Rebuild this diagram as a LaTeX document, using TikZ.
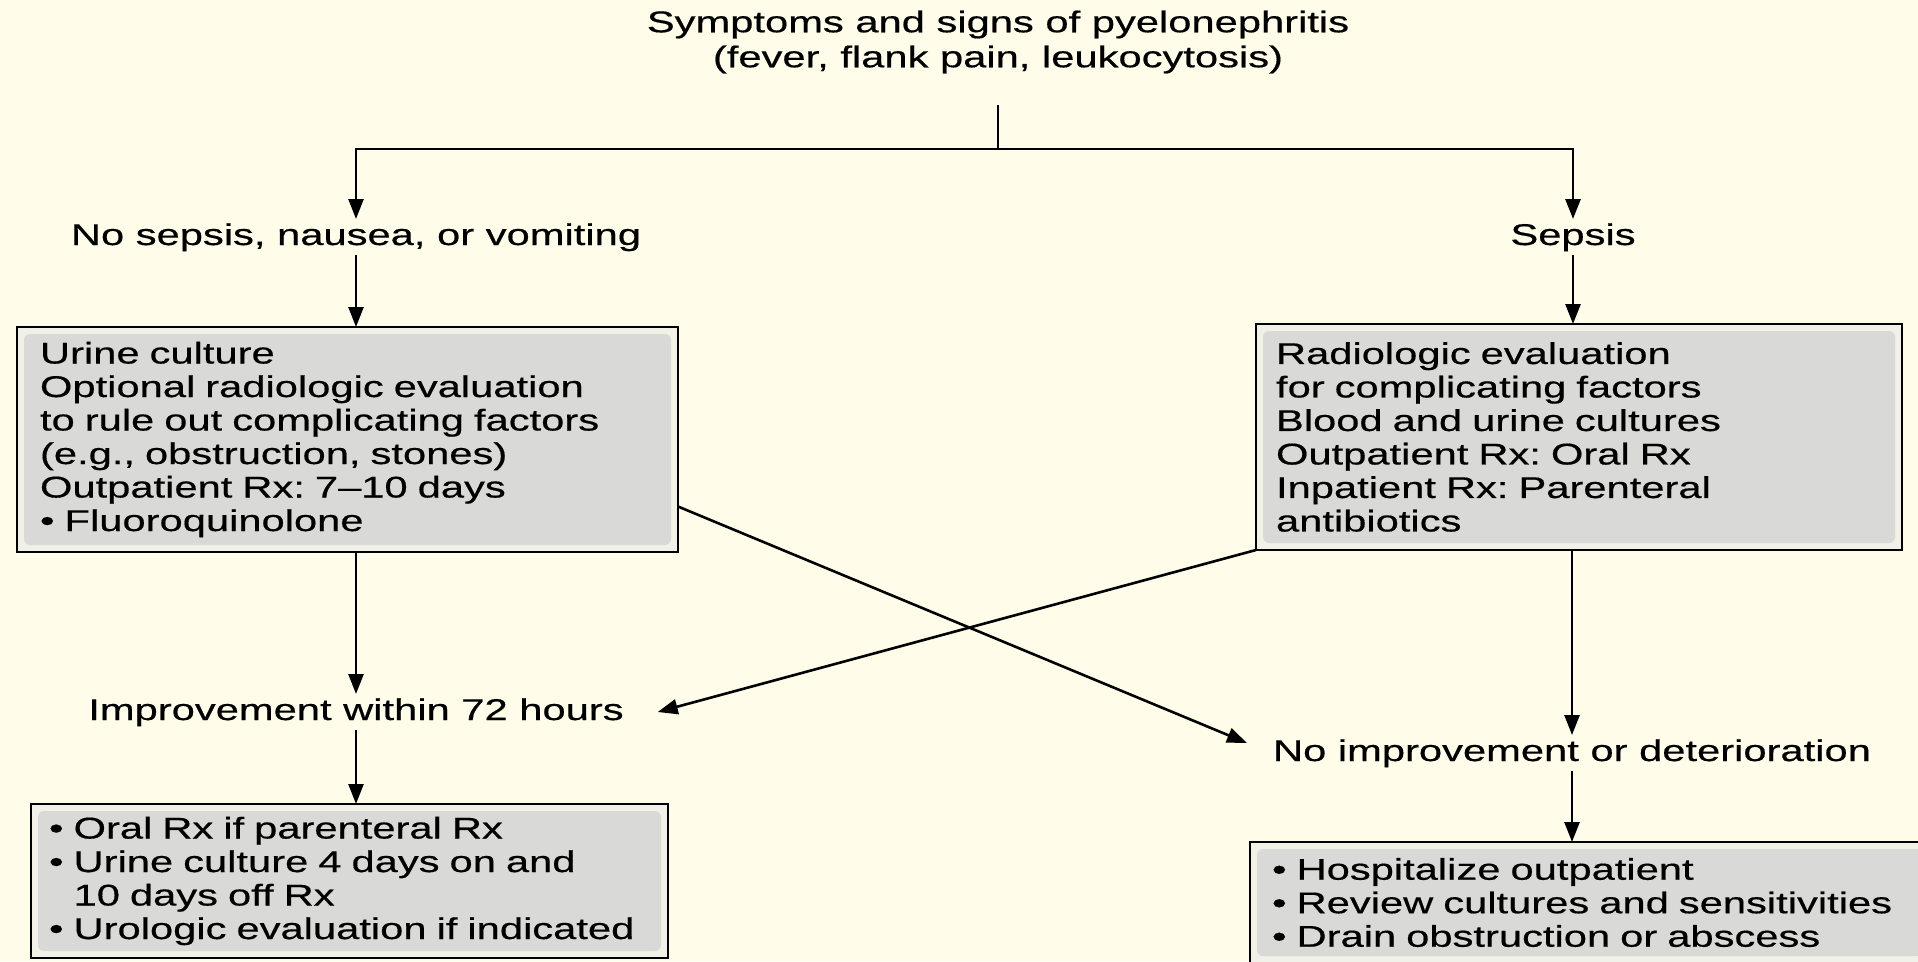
\documentclass[tikz,border=0pt]{standalone}
\usepackage{fontspec}
\setmainfont{Liberation Sans}[FakeStretch=1.39,FakeBold=0.5]
\usetikzlibrary{arrows.meta}
\definecolor{bgc}{HTML}{FFFDE9}
\definecolor{boxg}{HTML}{D9D9D7}
\definecolor{halo}{HTML}{F2F1E8}
\frenchspacing
\begin{document}
\begin{tikzpicture}[x=1pt,y=-1pt,
  every node/.style={font=\fontsize{30}{33.5}\selectfont\frenchspacing, outer sep=0pt},
  lbl/.style={text height=22pt,text depth=6pt,inner sep=4pt},
  box/.style={draw=black,line width=2.8pt,fill=halo,align=left,inner sep=0pt,
    path picture={\fill[boxg,rounded corners=6pt]
      ([shift={(7pt,-7pt)}]path picture bounding box.north west) rectangle
      ([shift={(-7pt,7pt)}]path picture bounding box.south east);}},
  ln/.style={line width=2.6pt},
  arr/.style={line width=2.6pt,-{Triangle[length=20pt,width=15pt]}}]
\fill[bgc] (0,0) rectangle (1918,961);
\useasboundingbox (0,0) rectangle (1918,961);

\node[align=center,font=\fontsize{30}{35}\selectfont\frenchspacing] (title) at (998,42)
  {Symptoms and signs of pyelonephritis\\(fever, flank pain, leukocytosis)};
\coordinate (j) at (998,149);

\node[lbl] (nosep) at (356,237) {No sepsis, nausea, or vomiting};
\node[lbl] (sepsis) at (1573,237) {Sepsis};

\node[box,minimum width=661pt,minimum height=225pt,text width=615pt] (box1) at (347.5,439.5)
  {Urine culture\\Optional radiologic evaluation\\\mbox{to rule out complicating factors}\\(e.g., obstruction, stones)\\Outpatient Rx: 7–10 days\\• Fluoroquinolone};

\node[box,minimum width=646pt,minimum height=226pt,text width=606pt] (box2) at (1579,437)
  {Radiologic evaluation\\for complicating factors\\Blood and urine cultures\\Outpatient Rx: Oral Rx\\Inpatient Rx: Parenteral\\antibiotics};

\node[lbl] (impr) at (356,712) {Improvement within 72 hours};
\node[lbl] (noimp) at (1572,753) {No improvement or deterioration};

\node[box,minimum width=637pt,minimum height=154pt,text width=601pt] (box3) at (349.5,881)
  {• Oral Rx if parenteral Rx\\\mbox{• Urine culture 4 days on and}\\\hphantom{• }10 days off Rx\\\mbox{• Urologic evaluation if indicated}};

\node[box,minimum width=680pt,minimum height=121pt,text width=636pt] (box4) at (1590,902.5)
  {• Hospitalize outpatient\\\mbox{• Review cultures and sensitivities}\\• Drain obstruction or abscess};

\draw[ln] ([yshift=-28pt]title.south) -- (j);
\draw[arr] (j) -| (nosep.north);
\draw[arr] (j) -| (sepsis.north);
\draw[arr] (nosep.south) -- (nosep.south |- box1.north);
\draw[arr] (sepsis.south) -- (sepsis.south |- box2.north);
\draw[arr] (box1.south -| impr.north) -- (impr.north);
\draw[arr] (impr.south) -- (impr.south |- box3.north);
\draw[arr] (box2.south -| noimp.north) -- (noimp.north);
\draw[arr] (noimp.south) -- (noimp.south |- box4.north);
\draw[arr] (box2.south west) -- ([xshift=30pt]impr.east);
\draw[arr] ([yshift=-67pt]box1.east) -- ([xshift=-22pt,yshift=10pt]noimp.west);
\end{tikzpicture}
\end{document}
